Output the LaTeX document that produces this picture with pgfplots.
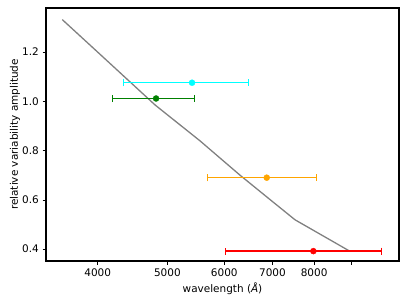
\documentclass[border=0pt]{standalone}
\usepackage{pgfplots}
\pgfplotsset{compat=1.18}
\usepackage{fontspec}
\setmainfont{DejaVu Sans}
\definecolor{mplgray}{RGB}{128,128,128}
\definecolor{mplgreen}{RGB}{0,128,0}
\definecolor{mplorange}{RGB}{255,165,0}
\definecolor{mplcyan}{RGB}{0,255,255}
\definecolor{mplred}{RGB}{255,0,0}
\pgfplotsset{
  ebar/.style={color=#1, draw=#1, fill=#1, only marks, mark=*, mark size=3bp,
    mark options={draw=#1, fill=#1},
    error bars/.cd, x dir=both, x explicit,
    error bar style={draw=#1, line width=1.5pt, solid},
    error mark=|,
    error mark options={draw=#1, line width=1.2pt, mark size=3.6bp, rotate=0}},
}
\begin{document}
\fontsize{10.5}{12.5}\selectfont
\begin{tikzpicture}
\begin{axis}[
  name=ax,
  scale only axis,
  width=353bp, height=253bp,
  xmode=log,
  xmin=3390, xmax=10500,
  ymin=0.352, ymax=1.378,
  xtick={4000,5000,6000,7000,8000,9000},
  xticklabels={4000,5000,6000,7000,8000,{}},
  minor xtick={},
  ytick={0.4,0.6,0.8,1.0,1.2},
  yticklabel style={/pgf/number format/.cd,fixed,fixed zerofill,precision=1},
  /pgf/number format/assume math mode=true,
  tick align=outside,
  tick pos=left,
  major tick length=3.5bp,
  tick style={black, line width=0.6pt},
  axis line style={black, line width=1.1pt},
  xlabel={wavelength (\textit{Å})},
  ylabel={relative variability amplitude},
  xlabel style={yshift=1pt},
  ylabel style={yshift=-5pt},
  xticklabel style={yshift=-1pt},
  ticklabel style={font=\fontsize{10.5}{12.5}\selectfont},
  label style={font=\fontsize{10.5}{12.5}\selectfont},
]
\addplot[color=mplgray, line width=1.3pt] coordinates {
 (3571,1.331) (4000,1.199) (4806,0.985) (5552,0.839) (6310,0.700)
 (6947,0.601) (7527,0.519) (8978,0.391)};
\addplot[ebar=mplcyan] coordinates {(5411,1.075) += (1078,0) -= (1069,0)};
\addplot[ebar=mplgreen] coordinates {(4822,1.011) += (629,0) -= (630,0)};
\addplot[ebar=mplorange] coordinates {(6874,0.690) += (1195,0) -= (1184,0)};
\addplot[ebar=mplred] coordinates {(7982,0.392) += (1942,0) -= (1954,0)};
\end{axis}
\path ([shift={(-46bp,-44bp)}]ax.south west) ([shift={(8bp,8bp)}]ax.north east);
\end{tikzpicture}
\end{document}
